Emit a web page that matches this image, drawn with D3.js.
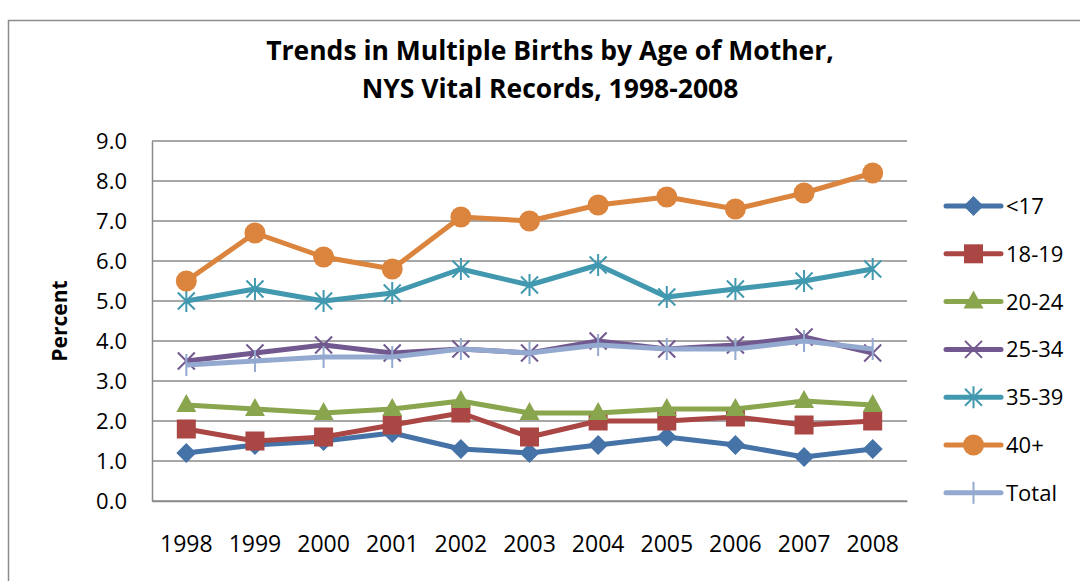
<!DOCTYPE html>
<html>
<head>
<meta charset="utf-8">
<script src="https://cdn.jsdelivr.net/npm/d3@7"></script>
<style>
  body { margin: 0; background: #fff; }
  text { font-family: "Open Sans", "Noto Sans", sans-serif; }
</style>
</head>
<body>
<div id="chart"></div>
<script>
// ---------------- data ----------------
var years = ["1998","1999","2000","2001","2002","2003","2004","2005","2006","2007","2008"]
var seriesNames = ["<17", "18-19", "20-24", "25-34", "35-39", "40+", "Total"]
var under17   = [1.2, 1.4, 1.5, 1.7, 1.3, 1.2, 1.4, 1.6, 1.4, 1.1, 1.3]
var age18_19  = [1.8, 1.5, 1.6, 1.9, 2.2, 1.6, 2.0, 2.0, 2.1, 1.9, 2.0]
var age20_24  = [2.4, 2.3, 2.2, 2.3, 2.5, 2.2, 2.2, 2.3, 2.3, 2.5, 2.4]
var age25_34  = [3.5, 3.7, 3.9, 3.7, 3.8, 3.7, 4.0, 3.8, 3.9, 4.1, 3.7]
var age35_39  = [5.0, 5.3, 5.0, 5.2, 5.8, 5.4, 5.9, 5.1, 5.3, 5.5, 5.8]
var age40plus = [5.5, 6.7, 6.1, 5.8, 7.1, 7.0, 7.4, 7.6, 7.3, 7.7, 8.2]
var total     = [3.4, 3.5, 3.6, 3.6, 3.8, 3.7, 3.9, 3.8, 3.8, 4.0, 3.8]
var yTicks = [0, 1, 2, 3, 4, 5, 6, 7, 8, 9]

var colors  = ["#4572A7", "#AA4643", "#89A54E", "#71588F", "#4198AF", "#DB843D", "#93A9CF"]
var markers = ["diamond", "square", "triangle", "x", "star", "circle", "plus"]
var values  = [under17, age18_19, age20_24, age25_34, age35_39, age40plus, total]

// ---------------- layout ----------------
var W = 1080, H = 581
var plot = {left: 152, right: 907, top: 141, bottom: 501}

var svg = d3.select("#chart").append("svg")
  .attr("width", W).attr("height", H)

// outer frame (runs off the right and bottom edges)
svg.append("rect")
  .attr("x", 8.5).attr("y", 20.5).attr("width", W + 10).attr("height", H + 10)
  .style("fill", "none").style("stroke", "#8c8c8c").style("stroke-width", 1.5)

var x = d3.scaleBand().domain(years).range([plot.left, plot.right])
var y = d3.scaleLinear().domain([0, 9]).range([plot.bottom, plot.top])
var cx = d => x(d) + x.bandwidth() / 2

// gridlines
svg.append("g").selectAll("line")
  .data(yTicks)
  .enter().append("line")
  .attr("x1", plot.left).attr("x2", plot.right)
  .attr("y1", d => y(d)).attr("y2", d => y(d))
  .style("stroke", "#8a8a8a").style("stroke-width", 1.5)

// y axis
var yAxis = svg.append("g")
  .attr("transform", "translate(" + plot.left + ",0)")
  .call(d3.axisLeft(y).tickValues(yTicks).tickFormat(d3.format(".1f")).tickSize(0).tickPadding(25))
yAxis.select(".domain").style("stroke", "#8a8a8a").style("stroke-width", 1.5)
yAxis.selectAll("text").style("font-size", "22px").style("fill", "#000")

// x axis
var xAxis = svg.append("g")
  .attr("transform", "translate(0," + plot.bottom + ")")
  .call(d3.axisBottom(x).tickSize(0))
xAxis.select(".domain").style("stroke", "#8a8a8a").style("stroke-width", 1.5)
xAxis.selectAll("text")
  .attr("y", 51).attr("dy", 0)
  .style("font-size", "23px").style("fill", "#000")

// y title
svg.append("text")
  .attr("transform", "translate(67," + ((plot.top + plot.bottom) / 2) + ") rotate(-90)")
  .attr("text-anchor", "middle")
  .style("font-size", "21px").style("font-weight", "bold")
  .text("Percent")

// title
var title = svg.append("text")
  .attr("text-anchor", "middle")
  .style("font-size", "26.5px").style("font-weight", "bold")
title.append("tspan").attr("x", 550).attr("y", 60).text("Trends in Multiple Births by Age of Mother,")
title.append("tspan").attr("x", 550).attr("y", 98).text("NYS Vital Records, 1998-2008")

// ---------------- markers ----------------
function drawMarker(g, type, color) {
  if (type == "diamond") {
    g.append("path").attr("d", "M0,-10L10,0L0,10L-10,0Z").style("fill", color)
  } else if (type == "square") {
    g.append("rect").attr("x", -9.5).attr("y", -9.5).attr("width", 19).attr("height", 19).style("fill", color)
  } else if (type == "triangle") {
    g.append("path").attr("d", "M0,-11L10,7L-10,7Z").style("fill", color)
  } else if (type == "circle") {
    g.append("circle").attr("r", 10.5).style("fill", color)
  } else if (type == "x") {
    g.append("path").attr("d", "M-8.5,-8.5L8.5,8.5M-8.5,8.5L8.5,-8.5").style("stroke", color).style("stroke-width", 2)
  } else if (type == "star") {
    g.append("path").attr("d", "M-8.5,-8.5L8.5,8.5M-8.5,8.5L8.5,-8.5M0,-11L0,11").style("stroke", color).style("stroke-width", 2)
  } else if (type == "plus") {
    g.append("path").attr("d", "M0,-11L0,11").style("stroke", color).style("stroke-width", 2)
  }
}

var line = d3.line().x((d, i) => cx(years[i])).y(d => y(d))

seriesNames.forEach(function (name, s) {
  var g = svg.append("g").attr("class", "series")
  g.append("path")
    .datum(values[s])
    .attr("d", line)
    .style("fill", "none")
    .style("stroke", colors[s])
    .style("stroke-width", 5)
    .style("stroke-linejoin", "round")
  g.selectAll(".pt")
    .data(values[s])
    .enter().append("g")
    .attr("class", "pt")
    .attr("transform", (d, i) => "translate(" + cx(years[i]) + "," + y(d) + ")")
    .each(function () { drawMarker(d3.select(this), markers[s], colors[s]) })
})

// ---------------- legend ----------------
var legend = svg.append("g").selectAll("g")
  .data(seriesNames)
  .enter().append("g")
  .attr("transform", (d, i) => "translate(946," + (206 + i * 47.8) + ")")

legend.append("line")
  .attr("x1", 0).attr("x2", 55)
  .style("stroke", (d, i) => colors[i]).style("stroke-width", 5).style("stroke-linecap", "round")
legend.append("g")
  .attr("transform", "translate(27.5,0)")
  .each(function (d, i) { drawMarker(d3.select(this), markers[i], colors[i]) })
legend.append("text")
  .attr("x", 60).attr("dy", "0.36em")
  .style("font-size", "22px")
  .text(d => d)
</script>
</body>
</html>
